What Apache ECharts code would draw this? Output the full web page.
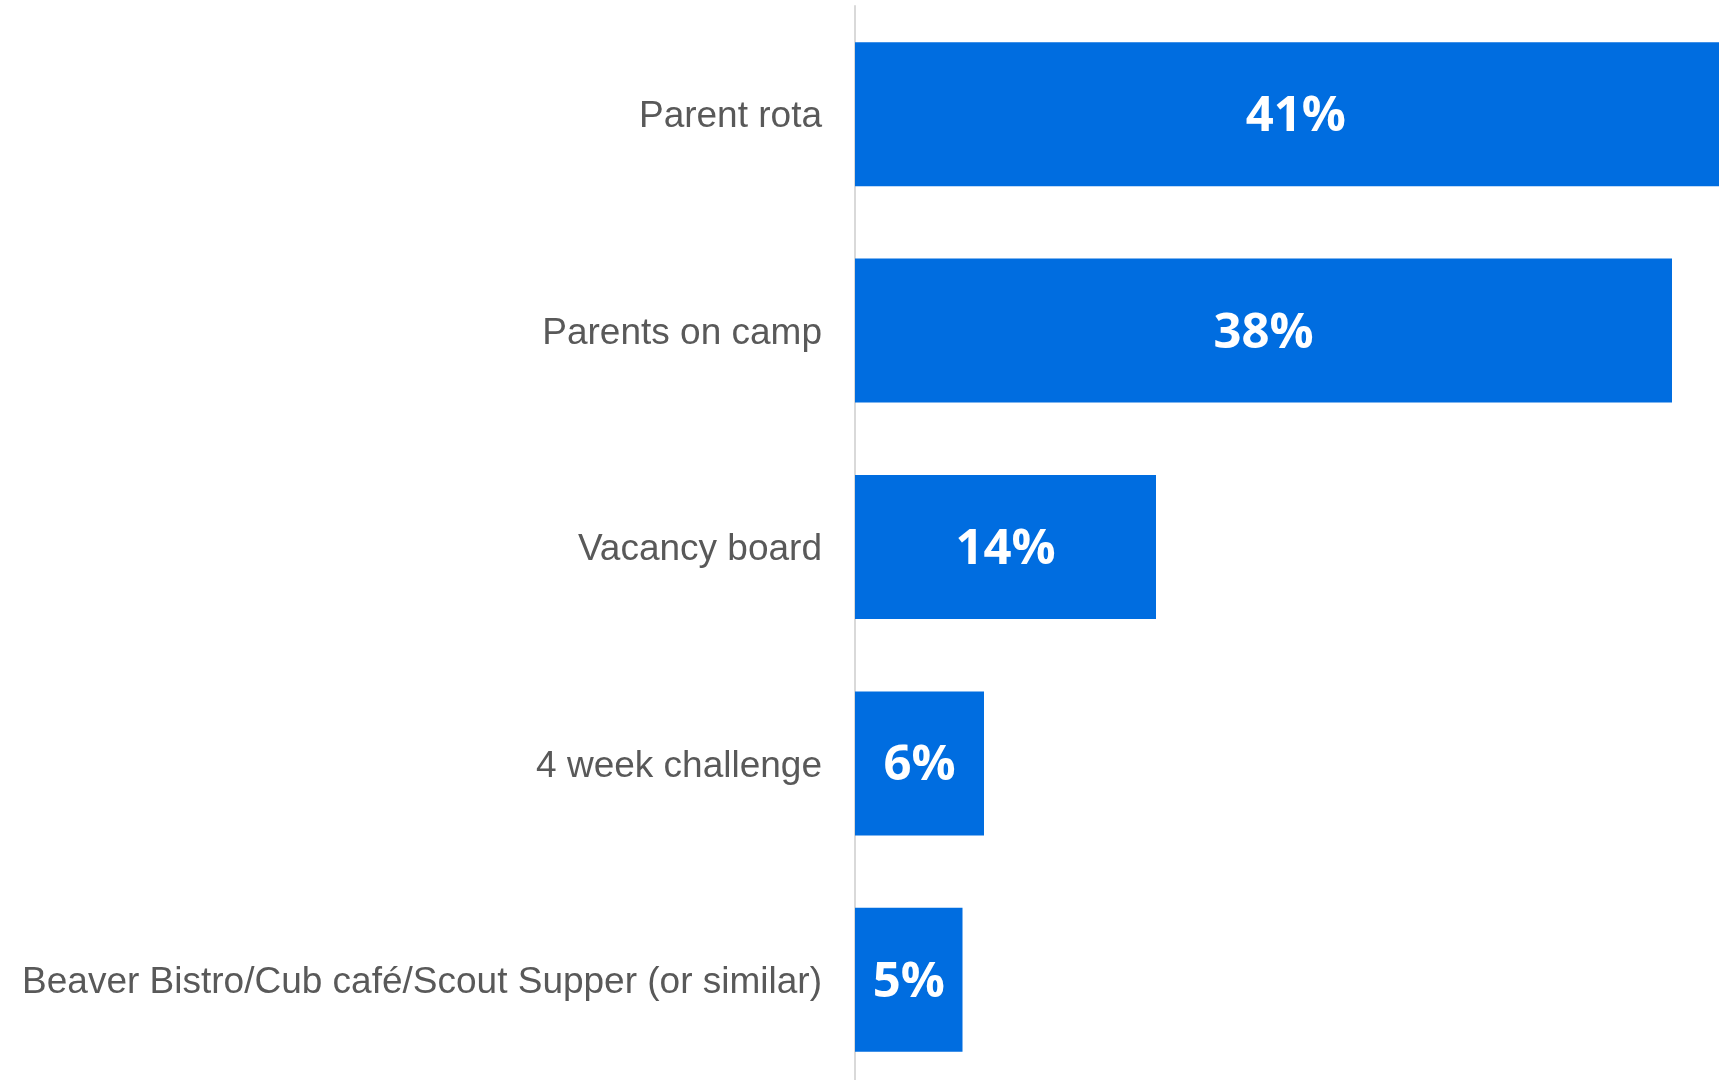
<!DOCTYPE html>
<html>
<head>
<meta charset="utf-8">
<script src="https://cdn.jsdelivr.net/npm/echarts@6/dist/echarts.min.js"></script>
<style>
  html, body { margin: 0; padding: 0; background: #ffffff; }
  #chart { width: 1719px; height: 1080px; }
</style>
</head>
<body>
<div id="chart"></div>
<script>
// Ways of getting parents involved, share of responses (%)
const categories = [
  'Parent rota',
  'Parents on camp',
  'Vacancy board',
  '4 week challenge',
  'Beaver Bistro/Cub café/Scout Supper (or similar)'
];
const shares = [41, 38, 14, 6, 5];

const chart = echarts.init(document.getElementById('chart'), null, { renderer: 'canvas' });

chart.setOption({
  backgroundColor: '#ffffff',
  animation: false,
  // plot area runs past the right and bottom edges of the canvas
  grid: {
    left: 855, top: 6, width: 903, height: 1082,
    containLabel: false,
    outerBoundsMode: 'none'
  },
  xAxis: {
    type: 'value',
    min: 0,
    max: 42,
    show: false
  },
  yAxis: {
    type: 'category',
    data: categories,
    inverse: true,
    axisLine: { show: true, lineStyle: { color: '#d9d9d9', width: 2 } },
    axisTick: { show: false },
    axisLabel: {
      margin: 33,
      verticalAlign: 'top',
      lineHeight: 6,
      color: '#595959',
      fontFamily: 'Liberation Sans, Arial, sans-serif',
      fontSize: 37
    }
  },
  series: [{
    type: 'bar',
    data: shares,
    barWidth: 144,
    itemStyle: { color: '#006de0' },
    label: {
      show: true,
      position: 'inside',
      offset: [0, 3],
      formatter: '{c}%',
      color: '#ffffff',
      fontFamily: 'Open Sans, sans-serif',
      fontWeight: 'bold',
      fontSize: 49
    }
  }]
});
</script>
</body>
</html>
